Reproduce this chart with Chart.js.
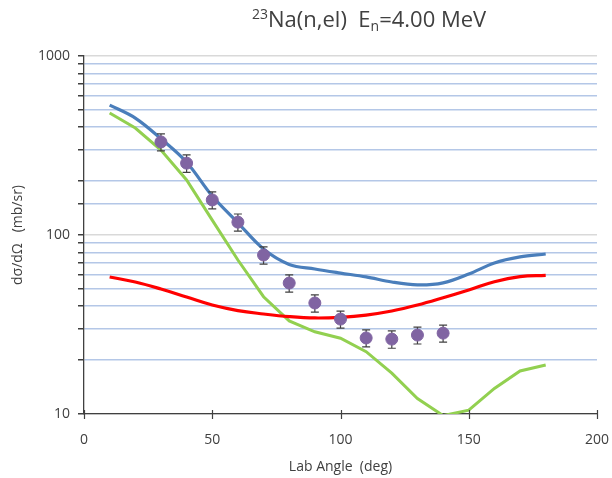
<!DOCTYPE html>
<html>
<head>
<meta charset="utf-8">
<script src="https://cdn.jsdelivr.net/npm/chart.js@4/dist/chart.umd.min.js"></script>
<style>
  html, body { margin: 0; padding: 0; background: #fff; }
  #wrap { position: relative; width: 612px; height: 478px; }
  #title {
    position: absolute; left: 252px; top: 3px;
    font-family: "Open Sans", sans-serif; font-size: 22px; color: #404040;
    white-space: nowrap;
  }
  #title sup { font-size: 14px; vertical-align: 8px; }
  #title sub { font-size: 14px; vertical-align: -4px; }
</style>
</head>
<body>
<div id="wrap">
  <canvas id="xsGraph" width="612" height="478"></canvas>
  <div id="title"><sup>23</sup>Na(n,el)&nbsp; E<sub>n</sub>=4.00 MeV</div>
</div>
<script>
// calculated angular distributions, every 10 deg
var angles = [10, 20, 30, 40, 50, 60, 70, 80, 90, 100, 110, 120, 130, 140, 150, 160, 170, 180];
var calcTotal = [532, 450, 345, 255, 165, 117, 83.5, 68.5, 64.6, 61.3, 58.3, 54.6, 52.6, 54, 60.5, 69.8, 75.4, 78.3];
var calcCompound = [58.3, 54.6, 49.9, 45, 40.6, 37.8, 36.2, 35, 34.4, 34.7, 35.7, 37.6, 40.6, 44.6, 49.3, 54.8, 58.5, 59.5];
var calcShape = [480, 396, 298, 203, 121, 72.5, 45.2, 33.1, 28.8, 26.5, 22.3, 16.9, 12.2, 9.8, 10.5, 13.9, 17.4, 18.8];

// measured points
var expAngles = [30, 40, 50, 60, 70, 80, 90, 100, 110, 120, 130, 140];
var expValues = [331, 252, 157, 118, 77.3, 53.9, 41.7, 33.9, 26.6, 26.2, 27.6, 28.3];
var expErrors = [36, 28, 17, 13, 8.5, 6, 4.6, 3.7, 2.9, 2.9, 3, 3.1];

var xTicks = [0, 50, 100, 150, 200];
var yLabels = [10, 100, 1000];

var txt = '#404040';
var fontName = '"Open Sans", sans-serif';

function pairs(xs, ys){
  var out = [];
  for (var i = 0; i < xs.length; i++) out.push({x: xs[i], y: ys[i]});
  return out;
}

// vertical bars with caps for the measured points
var errorBars = {
  id: 'errorBars',
  beforeDatasetDraw: function(chart, args){
    if (args.index !== 3) return;
    var c = chart.ctx, xs = chart.scales.x, ys = chart.scales.y;
    c.save();
    c.strokeStyle = '#404040';
    c.lineWidth = 1.2;
    for (var i = 0; i < expAngles.length; i++) {
      var px = xs.getPixelForValue(expAngles[i]);
      var top = ys.getPixelForValue(expValues[i] + expErrors[i]);
      var bot = ys.getPixelForValue(expValues[i] - expErrors[i]);
      c.beginPath();
      c.moveTo(px, top); c.lineTo(px, bot);
      c.moveTo(px - 4, top); c.lineTo(px + 4, top);
      c.moveTo(px - 4, bot); c.lineTo(px + 4, bot);
      c.stroke();
    }
    c.restore();
  }
};

// x tick marks that cross the axis line
var crossTicks = {
  id: 'crossTicks',
  afterDraw: function(chart){
    var c = chart.ctx, xs = chart.scales.x, base = chart.chartArea.bottom;
    c.save();
    c.strokeStyle = '#404040';
    c.lineWidth = 1.2;
    c.beginPath();
    xTicks.forEach(function(v){
      var px = Math.round(xs.getPixelForValue(v)) + 0.5;
      c.moveTo(px, base - 4); c.lineTo(px, base + 5);
    });
    c.stroke();
    c.restore();
  }
};

var ctx = document.getElementById('xsGraph').getContext('2d');
var xsChart = new Chart(ctx, {
  type: 'scatter',
  data: {
    datasets: [
      {
        data: pairs(angles, calcTotal), showLine: true, borderColor: '#4a7ebb',
        borderWidth: 3.2, pointRadius: 0, tension: 0.35, order: 1
      },
      {
        data: pairs(angles, calcCompound), showLine: true, borderColor: '#ff0000',
        borderWidth: 3.2, pointRadius: 0, tension: 0.4, order: 2
      },
      {
        data: pairs(angles, calcShape), showLine: true, borderColor: '#92d050',
        borderWidth: 3, pointRadius: 0, tension: 0, order: 3
      },
      {
        data: pairs(expAngles, expValues), showLine: false, backgroundColor: '#8064a2',
        borderColor: '#8064a2', pointRadius: 6, order: 0
      }
    ]
  },
  options: {
    responsive: false,
    animation: false,
    layout: { padding: { top: 56, right: 15, left: 0, bottom: 0 } },
    plugins: { legend: { display: false }, tooltip: { enabled: false } },
    scales: {
      x: {
        type: 'linear', min: 0, max: 200,
        afterBuildTicks: function(s){ s.ticks = xTicks.map(function(v){ return {value: v}; }); },
        afterFit: function(s){ s.height = 64; s.paddingRight = 0; s.paddingLeft = 0; },
        border: { color: '#404040', width: 1.3 },
        grid: { drawOnChartArea: false, display: false },
        ticks: { color: txt, font: { family: fontName, size: 14 }, padding: 10 },
        title: {
          display: true, text: 'Lab Angle  (deg)', color: txt,
          font: { family: fontName, size: 14 }, padding: { top: 0, bottom: 3 }
        }
      },
      y: {
        type: 'logarithmic', min: 10, max: 1000,
        afterFit: function(s){ s.width = 84; },
        border: { color: '#404040', width: 1.3 },
        grid: {
          color: function(c){
            return yLabels.indexOf(c.tick.value) >= 0 ? '#d9d9d9' : '#b4c7e7';
          },
          lineWidth: 1.5,
          tickColor: '#404040',
          tickLength: 6
        },
        ticks: {
          color: txt, font: { family: fontName, size: 14 }, padding: 8,
          autoSkip: false,
          callback: function(v){ return yLabels.indexOf(v) >= 0 ? String(v) : ''; }
        },
        title: {
          display: true, text: 'd\u03c3/d\u03a9   (mb/sr)', color: txt,
          font: { family: fontName, size: 14 }, padding: { top: 10, bottom: 0 }
        }
      }
    }
  },
  plugins: [errorBars, crossTicks]
});
</script>
</body>
</html>
